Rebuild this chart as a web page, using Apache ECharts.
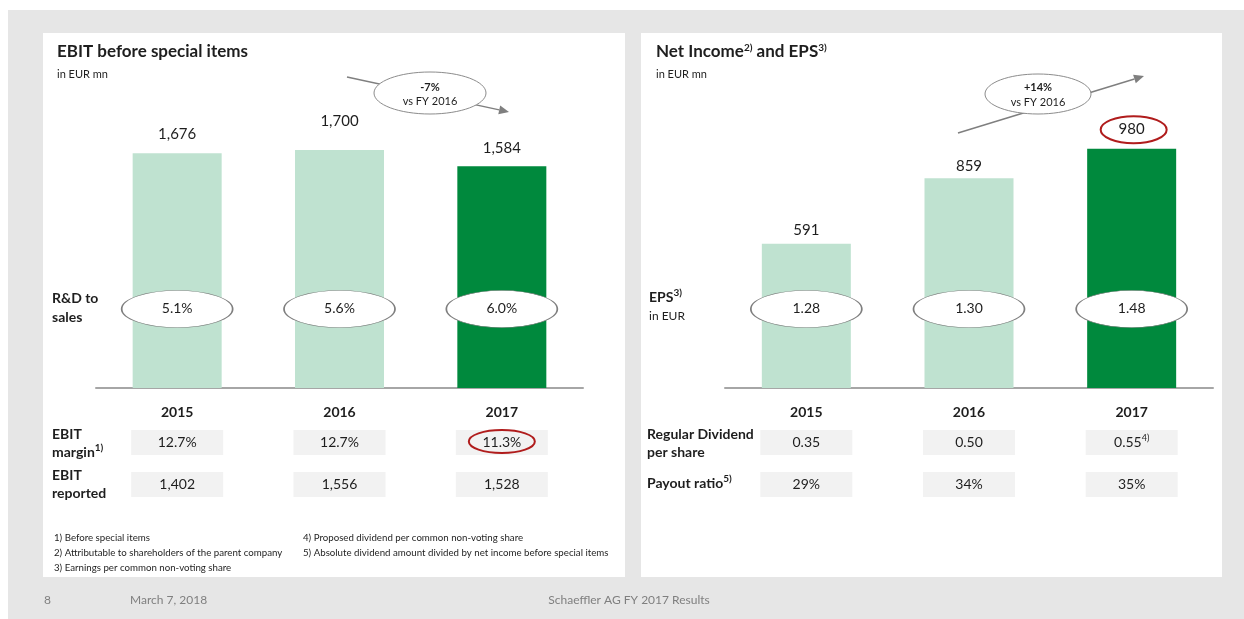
<!DOCTYPE html>
<html><head><meta charset="utf-8">
<script src="https://cdn.jsdelivr.net/npm/echarts@6/dist/echarts.min.js"></script>
<style>html,body{margin:0;padding:0;background:#fff}#c{width:1244px;height:619px}</style>
</head><body><div id="c"></div>
<script>
// ---- data ----
const years = ['2015', '2016', '2017'];
const ebitBeforeSpecial = [1676, 1700, 1584];
const rdToSales = ['5.1%', '5.6%', '6.0%'];
const ebitMargin = ['12.7%', '12.7%', '11.3%'];
const ebitReported = ['1,402', '1,556', '1,528'];
const netIncome = [591, 859, 980];
const eps = ['1.28', '1.30', '1.48'];
const dividend = ['0.35', '0.50', '0.55'];
const dividendNote = ['', '', '4)'];
const payoutRatio = ['29%', '34%', '35%'];
const footnotesLeft = ['1) Before special items', '2) Attributable to shareholders of the parent company', '3) Earnings per common non-voting share'];
const footnotesRight = ['4) Proposed dividend per common non-voting share', '5) Absolute dividend amount divided by net income before special items'];

const FONT = 'Lato, "Open Sans", sans-serif';
const LIGHT = '#bfe2d0', DARK = '#00893d', TXT = '#1e1e1e';
const chart = echarts.init(document.getElementById('c'));

const barColor = (p) => (p.dataIndex === years.length - 1 ? DARK : LIGHT);
const catAxis = (g, show) => ({
  type: 'category', data: years, gridIndex: g,
  axisLine: { show: show, lineStyle: { color: '#a6a6a6', width: 2 } },
  axisTick: { show: false },
  axisLabel: { show: show, margin: 17, fontFamily: FONT, fontWeight: 'bold', fontSize: 14, color: TXT }
});
const valAxis = (g, max) => ({ type: 'value', gridIndex: g, min: 0, max: max, show: false, splitLine: { show: false } });

const ellipseSeries = (xi, yi, vals, yFrac) => ({
  type: 'scatter', xAxisIndex: xi, yAxisIndex: yi, z: 5, silent: true,
  symbol: 'circle', symbolSize: [111, 37],
  itemStyle: { color: '#fff', borderColor: '#7f7f7f', borderWidth: 1, opacity: 1 },
  label: { show: true, position: 'inside', formatter: (p) => vals[p.dataIndex], fontFamily: FONT, fontSize: 14, color: TXT, offset: [0, -1] },
  data: years.map((y) => [y, yFrac])
});
const tableSeries = (xi, yi, vals, notes) => ({
  type: 'scatter', xAxisIndex: xi, yAxisIndex: yi, silent: true,
  symbol: 'rect', symbolSize: [92, 25],
  itemStyle: { color: '#f2f2f2', opacity: 1 },
  label: {
    show: true, position: 'inside', fontFamily: FONT, fontSize: 14, color: TXT,
    formatter: (p) => '{v|' + vals[p.dataIndex] + '}' + (notes && notes[p.dataIndex] ? '{s|' + notes[p.dataIndex] + '}' : ''),
    rich: { v: { fontFamily: FONT, fontSize: 14, color: TXT }, s: { fontFamily: FONT, fontSize: 9, color: TXT, verticalAlign: 'top', padding: [0, 0, 8, 0] } }
  },
  data: years.map((y) => [y, 0.5])
});

const txt = (x, y, text, o = {}) => ({
  type: 'text', x: x, y: y, z: 20, silent: true,
  style: Object.assign({ text: text, fontFamily: FONT, fontSize: 14, fill: TXT, verticalAlign: 'middle', textAlign: 'left' }, o)
});
const supRich = { s: { fontFamily: FONT, fontSize: 10, fontWeight: 'bold', fill: TXT, verticalAlign: 'top', padding: [0, 0, 8, 0] } };

function arrow(x1, y1, x2, y2) {
  const a = Math.atan2(y2 - y1, x2 - x1), L = 10, W = 4.5;
  const bx = x2 - L * Math.cos(a), by = y2 - L * Math.sin(a);
  return [
    { type: 'line', z: 10, silent: true, shape: { x1: x1, y1: y1, x2: bx, y2: by }, style: { stroke: '#7f7f7f', lineWidth: 1.5 } },
    { type: 'polygon', z: 10, silent: true, shape: { points: [[x2, y2], [bx - W * Math.sin(a), by + W * Math.cos(a)], [bx + W * Math.sin(a), by - W * Math.cos(a)]] }, style: { fill: '#7f7f7f' } }
  ];
}
const bubble = (cx, cy, rx, ry) => ({ type: 'ellipse', z: 12, silent: true, shape: { cx: cx, cy: cy, rx: rx, ry: ry }, style: { fill: '#fff', stroke: '#8c8c8c', lineWidth: 1 } });

const graphics = [
  { type: 'rect', z: -10, silent: true, shape: { x: 8, y: 10, width: 1236, height: 609 }, style: { fill: '#e6e6e6' } },
  { type: 'rect', z: -9, silent: true, shape: { x: 43, y: 33, width: 582, height: 544 }, style: { fill: '#fff' } },
  { type: 'rect', z: -9, silent: true, shape: { x: 641, y: 33, width: 581, height: 544 }, style: { fill: '#fff' } },
  txt(57, 52, 'EBIT before special items', { fontSize: 17, fontWeight: 'bold' }),
  txt(57, 74, 'in EUR mn', { fontSize: 11 }),
  txt(656, 52, 'Net Income{s|2)} and EPS{s|3)}', { fontSize: 17, fontWeight: 'bold', rich: supRich }),
  txt(656, 74, 'in EUR mn', { fontSize: 11 }),
  txt(52, 298, 'R&D to', { fontWeight: 'bold' }),
  txt(52, 317, 'sales', { fontWeight: 'bold' }),
  txt(649, 297, 'EPS{s|3)}', { fontWeight: 'bold', rich: supRich }),
  txt(649, 316, 'in EUR', { fontSize: 12 }),
  txt(52, 434, 'EBIT', { fontWeight: 'bold' }),
  txt(52, 452, 'margin{s|1)}', { fontWeight: 'bold', rich: supRich }),
  txt(52, 475, 'EBIT', { fontWeight: 'bold' }),
  txt(52, 493, 'reported', { fontWeight: 'bold' }),
  txt(647, 434, 'Regular Dividend', { fontWeight: 'bold' }),
  txt(647, 452, 'per share', { fontWeight: 'bold' }),
  txt(647, 483, 'Payout ratio{s|5)}', { fontWeight: 'bold', rich: supRich }),
  ...footnotesLeft.map((t, i) => txt(54, 538 + i * 15, t, { fontSize: 9.7 })),
  ...footnotesRight.map((t, i) => txt(303, 538 + i * 15, t, { fontSize: 9.7 })),
  txt(44, 600, '8', { fontSize: 12, fill: '#7f7f7f' }),
  txt(130, 600, 'March 7, 2018', { fontSize: 12, fill: '#7f7f7f' }),
  txt(629, 600, 'Schaeffler AG FY 2017 Results', { fontSize: 12, fill: '#7f7f7f', textAlign: 'center' }),
  ...arrow(347, 77, 509, 112),
  bubble(430, 93, 56, 21),
  txt(430, 87, '-7%', { fontSize: 11, fontWeight: 'bold', textAlign: 'center' }),
  txt(430, 101, 'vs FY 2016', { fontSize: 11, textAlign: 'center' }),
  ...arrow(958, 133, 1144, 76),
  bubble(1038, 94, 53, 20),
  txt(1038, 87, '+14%', { fontSize: 11, fontWeight: 'bold', textAlign: 'center' }),
  txt(1038, 102, 'vs FY 2016', { fontSize: 11, textAlign: 'center' })
];

const ebitLabelDist = [12, 21, 11];
const niLabelDist = [6, 5, 12];

chart.setOption({
  animation: false,
  grid: [
    { left: 96, top: 108, width: 487, height: 280 },
    { left: 725, top: 95, width: 488, height: 293 },
    { left: 96, top: 430, width: 487, height: 25 },
    { left: 96, top: 472, width: 487, height: 25 },
    { left: 725, top: 430, width: 488, height: 25 },
    { left: 725, top: 472, width: 488, height: 25 }
  ],
  xAxis: [catAxis(0, true), catAxis(1, true), catAxis(2, false), catAxis(3, false), catAxis(4, false), catAxis(5, false)],
  yAxis: [valAxis(0, 2000), valAxis(1, 1200), valAxis(0, 1), valAxis(1, 1), valAxis(2, 1), valAxis(3, 1), valAxis(4, 1), valAxis(5, 1)],
  series: [
    {
      type: 'bar', xAxisIndex: 0, yAxisIndex: 0, barWidth: 89, silent: true,
      itemStyle: { color: barColor },
      data: ebitBeforeSpecial.map((v, i) => ({ value: v, label: { distance: ebitLabelDist[i] } })),
      label: { show: true, position: 'top', fontFamily: FONT, fontSize: 15, color: TXT, formatter: (p) => p.value.toLocaleString('en-US') }
    },
    {
      type: 'bar', xAxisIndex: 1, yAxisIndex: 1, barWidth: 89, silent: true,
      itemStyle: { color: barColor },
      data: netIncome.map((v, i) => ({ value: v, label: { distance: niLabelDist[i] } })),
      label: { show: true, position: 'top', fontFamily: FONT, fontSize: 15, color: TXT }
    },
    ellipseSeries(0, 2, rdToSales, (388 - 309) / 280),
    ellipseSeries(1, 3, eps, (388 - 309) / 293),
    tableSeries(2, 4, ebitMargin),
    tableSeries(3, 5, ebitReported),
    tableSeries(4, 6, dividend, dividendNote),
    tableSeries(5, 7, payoutRatio)
  ],
  graphic: graphics
});

// red highlight rings placed from the chart's own scales
const pMargin = chart.convertToPixel({ gridIndex: 2 }, [years[2], 0.5]);
const pNI = chart.convertToPixel({ gridIndex: 1 }, [years[2], netIncome[2]]);
chart.setOption({
  graphic: graphics.concat([
    { type: 'ellipse', z: 15, silent: true, shape: { cx: pMargin[0], cy: pMargin[1] - 1, rx: 33, ry: 11.5 }, style: { fill: 'none', stroke: '#b01c1c', lineWidth: 2 } },
    { type: 'ellipse', z: 15, silent: true, shape: { cx: pNI[0] + 2, cy: pNI[1] - 19, rx: 33, ry: 13.5 }, style: { fill: 'none', stroke: '#b01c1c', lineWidth: 2 } }
  ])
}, { replaceMerge: ['graphic'] });
</script></body></html>
